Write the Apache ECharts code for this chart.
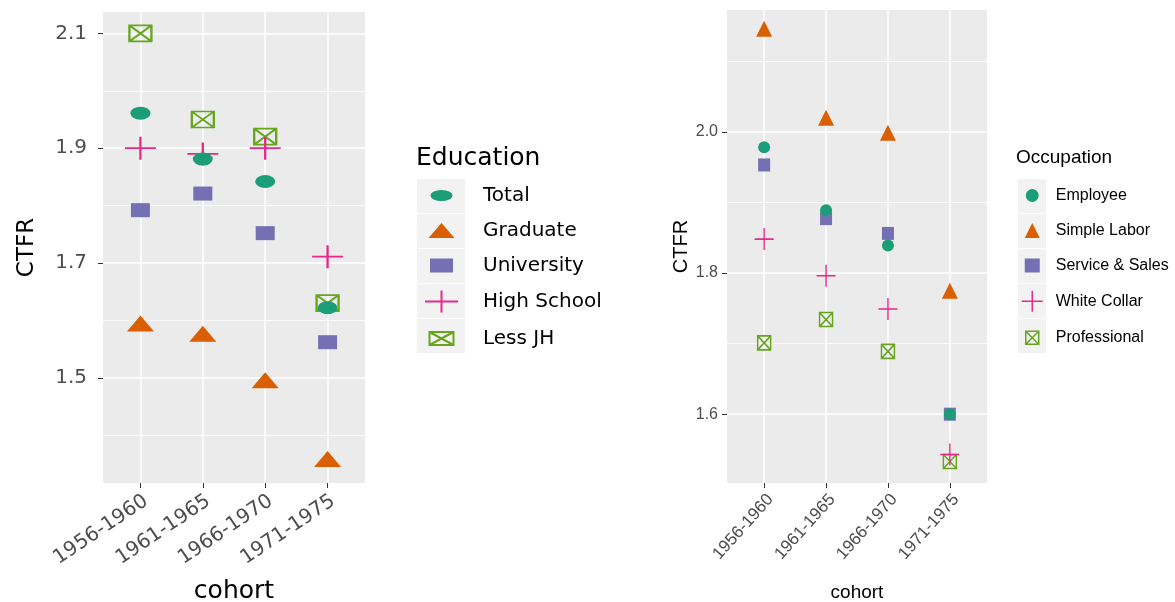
<!DOCTYPE html>
<html>
<head>
<meta charset="utf-8">
<script src="https://cdn.jsdelivr.net/npm/echarts@6/dist/echarts.min.js"></script>
<style>
  html, body { margin: 0; padding: 0; background: #ffffff; }
  #chart { width: 1175px; height: 602px; }
</style>
</head>
<body>
<div id="chart"></div>
<script>
// Completed total fertility rate (CTFR) by birth cohort
const cohorts = ['1956-1960', '1961-1965', '1966-1970', '1971-1975'];

const eduNames = ['Total', 'Graduate', 'University', 'High School', 'Less JH'];
const eduTotal      = [1.961, 1.881, 1.842, 1.622];
const eduGraduate   = [1.590, 1.572, 1.491, 1.354];
const eduUniversity = [1.792, 1.821, 1.752, 1.562];
const eduHighSchool = [1.900, 1.890, 1.900, 1.711];
const eduLessJH     = [2.100, 1.950, 1.920, 1.630];

const occNames = ['Employee', 'Simple Labor', 'Service & Sales', 'White Collar', 'Professional'];
const occEmployee     = [1.978, 1.889, 1.839, 1.600];
const occSimpleLabor  = [2.142, 2.016, 1.995, 1.771];
const occServiceSales = [1.953, 1.877, 1.856, 1.600];
const occWhiteCollar  = [1.848, 1.796, 1.749, 1.543];
const occProfessional = [1.701, 1.734, 1.689, 1.533];

const eduTicks = [1.5, 1.7, 1.9, 2.1];
const eduMinorTicks = [1.4, 1.6, 1.8, 2.0];
const occTicks = [1.6, 1.8, 2.0];
const occMinorTicks = [1.7, 1.9, 2.1];

// Dark2 palette
const COLORS = ['#1B9E77', '#D95F02', '#7570B3', '#E7298A', '#66A61E'];
const SHAPES = ['circle', 'triangle', 'rect', 'plus', 'boxx'];

const eduValues = [eduTotal, eduGraduate, eduUniversity, eduHighSchool, eduLessJH];
const occValues = [occEmployee, occSimpleLabor, occServiceSales, occWhiteCollar, occProfessional];

// continuous range padded by 5% on each side
function paddedRange(arrays) {
  const all = [].concat(...arrays);
  const lo = Math.min(...all), hi = Math.max(...all);
  const pad = (hi - lo) * 0.05;
  return [lo - pad, hi + pad];
}
const eduRange = paddedRange(eduValues);
const occRange = paddedRange(occValues);

const PATH_PLUS = 'path://M0,5L10,5M5,0L5,10';
const PATH_BOXX = 'path://M0,0L10,0L10,10L0,10ZM0,0L10,10M10,0L0,10';

// marker appearance per panel
const panelStyle = {
  edu: {
    size: { circle: [20, 13], triangle: [27, 16], rect: [19, 14], plus: [31, 23], boxx: [22, 16] },
    legendSize: { circle: [22, 11], triangle: [26, 15], rect: [23, 14], plus: [33, 22], boxx: [24, 13] },
    stroke: 2
  },
  occ: {
    size: { circle: [12, 12], triangle: [16, 16], rect: [12, 13], plus: [19, 22], boxx: [13, 14] },
    legendSize: { circle: [13, 13], triangle: [15, 15], rect: [15, 14], plus: [21, 21], boxx: [13, 13] },
    stroke: 1.5
  }
};

function symbolFor(shape) {
  if (shape === 'plus') return PATH_PLUS;
  if (shape === 'boxx') return PATH_BOXX;
  return shape;
}
function isOutline(shape) { return shape === 'plus' || shape === 'boxx'; }

function itemStyleFor(shape, color, stroke) {
  return isOutline(shape)
    ? { color: 'rgba(0,0,0,0)', borderColor: color, borderWidth: stroke, opacity: 1 }
    : { color: color, borderWidth: 0, opacity: 1 };
}

// legend glyph inside a key box (bw x bh), drawn centred
function keyIcon(shape, w, h, bw, bh) {
  const x0 = (bw - w) / 2, y0 = (bh - h) / 2, x1 = x0 + w, y1 = y0 + h;
  const cx = bw / 2, cy = bh / 2;
  const frame = 'M0,0M' + bw + ',' + bh;
  let d;
  if (shape === 'circle') {
    d = 'M' + x0 + ',' + cy + 'A' + (w / 2) + ',' + (h / 2) + ' 0 1 1 ' + x1 + ',' + cy +
        'A' + (w / 2) + ',' + (h / 2) + ' 0 1 1 ' + x0 + ',' + cy + 'Z';
  } else if (shape === 'triangle') {
    d = 'M' + cx + ',' + y0 + 'L' + x1 + ',' + y1 + 'L' + x0 + ',' + y1 + 'Z';
  } else if (shape === 'rect') {
    d = 'M' + x0 + ',' + y0 + 'L' + x1 + ',' + y0 + 'L' + x1 + ',' + y1 + 'L' + x0 + ',' + y1 + 'Z';
  } else if (shape === 'plus') {
    d = 'M' + x0 + ',' + cy + 'L' + x1 + ',' + cy + 'M' + cx + ',' + y0 + 'L' + cx + ',' + y1;
  } else {
    d = 'M' + x0 + ',' + y0 + 'L' + x1 + ',' + y0 + 'L' + x1 + ',' + y1 + 'L' + x0 + ',' + y1 + 'Z' +
        'M' + x0 + ',' + y0 + 'L' + x1 + ',' + y1 + 'M' + x1 + ',' + y0 + 'L' + x0 + ',' + y1;
  }
  return 'path://' + frame + d;
}

// groups are drawn last-to-first, so the first group ends up on top
function buildSeries(names, values, panel, axisIndex) {
  const st = panelStyle[panel];
  return names.map((name, k) => {
    const shape = SHAPES[k];
    const size = st.size[shape];
    return {
      name: name,
      type: 'scatter',
      xAxisIndex: axisIndex,
      yAxisIndex: axisIndex * 2,
      symbol: symbolFor(shape),
      symbolSize: size,
      symbolOffset: shape === 'triangle' ? [0, -size[1] / 6] : [0, 0],
      itemStyle: itemStyleFor(shape, COLORS[k], st.stroke),
      emphasis: { disabled: true },
      silent: true,
      data: values[k].map((v, i) => [i, v])
    };
  }).reverse();
}

function buildLegendData(names, panel, bw, bh) {
  const st = panelStyle[panel];
  return names.map((name, k) => {
    const shape = SHAPES[k];
    const ls = st.legendSize[shape];
    return {
      name: name,
      icon: keyIcon(shape, ls[0], ls[1], bw, bh),
      itemStyle: itemStyleFor(shape, COLORS[k], st.stroke)
    };
  });
}

const LEFT_FONT = 'DejaVu Sans';
const RIGHT_FONT = 'Liberation Sans';
const TICK_COLOR = '#4D4D4D';
const GRID_BG = '#EBEBEB';

const grids = [
  { left: 103, top: 12, width: 262, height: 471 },
  { left: 727, top: 10, width: 260, height: 473 }
];

function xAxisFor(gridIndex, font, fontSize, rotate, margin, nameSize, nameGap) {
  return {
    type: 'value',
    gridIndex: gridIndex,
    position: 'bottom',
    min: -0.6,
    max: cohorts.length - 1 + 0.6,
    axisLine: { show: false, onZero: false },
    axisTick: { show: true, length: 5, lineStyle: { color: '#333333', width: 1 },
                customValues: cohorts.map((c, i) => i) },
    axisLabel: { show: true, customValues: cohorts.map((c, i) => i), rotate: rotate, margin: margin,
                 align: 'right', verticalAlign: 'top',
                 color: TICK_COLOR, fontFamily: font, fontSize: fontSize,
                 formatter: v => cohorts[Math.round(v)] },
    splitLine: { show: true, lineStyle: { color: '#FFFFFF', width: 1.5 } },
    name: 'cohort',
    nameLocation: 'middle',
    nameGap: nameGap,
    nameTextStyle: { color: '#000000', fontFamily: font, fontSize: nameSize }
  };
}

function yAxesFor(gridIndex, range, ticks, minorTicks, font, fontSize, margin, nameSize, nameGap) {
  return [
    {
      type: 'value',
      gridIndex: gridIndex,
      position: 'left',
      min: range[0],
      max: range[1],
      axisLine: { show: false, onZero: false },
      axisTick: { show: true, length: 5, lineStyle: { color: '#333333', width: 1 }, customValues: ticks },
      axisLabel: { show: true, customValues: ticks, margin: margin, color: TICK_COLOR,
                   fontFamily: font, fontSize: fontSize, formatter: v => v.toFixed(1) },
      splitLine: { show: true, lineStyle: { color: '#FFFFFF', width: 1.5 } },
      name: 'CTFR',
      nameLocation: 'middle',
      nameRotate: 90,
      nameGap: nameGap,
      nameTextStyle: { color: '#000000', fontFamily: font, fontSize: nameSize }
    },
    {
      type: 'value',
      gridIndex: gridIndex,
      position: 'left',
      min: range[0],
      max: range[1],
      axisLine: { show: false, onZero: false },
      axisTick: { show: false, customValues: minorTicks },
      axisLabel: { show: false },
      splitLine: { show: true, lineStyle: { color: '#FFFFFF', width: 0.8 } }
    }
  ];
}

// legend key geometry
const KEY_H = 35;
const eduKey = { left: 416, top: 178, width: 49 };
const occKey = { left: 1017, top: 178, width: 29 };

function keyBoxes(key, count) {
  const out = [];
  for (let i = 0; i < count; i++) {
    out.push({
      type: 'rect',
      left: key.left, top: key.top + i * KEY_H,
      shape: { width: key.width, height: KEY_H },
      style: { fill: '#F2F2F2', stroke: '#FFFFFF', lineWidth: 1 },
      silent: true, z: 0
    });
  }
  return out;
}

const option = {
  animation: false,
  backgroundColor: '#FFFFFF',
  title: [
    { text: 'Education', left: 416, top: 146, padding: 0,
      textStyle: { fontFamily: LEFT_FONT, fontSize: 25, fontWeight: 'normal', color: '#000000' } },
    { text: 'Occupation', left: 1016, top: 148, padding: 0,
      textStyle: { fontFamily: RIGHT_FONT, fontSize: 19, fontWeight: 'normal', color: '#000000' } }
  ],
  grid: grids.map(g => Object.assign({
    show: true, backgroundColor: GRID_BG, borderWidth: 0,
    containLabel: false, outerBoundsMode: 'none'
  }, g)),
  xAxis: [
    xAxisFor(0, LEFT_FONT, 20, 34, 8, 25, 96),
    xAxisFor(1, RIGHT_FONT, 17, 48, 8, 19, 100)
  ],
  yAxis: [].concat(
    yAxesFor(0, eduRange, eduTicks, eduMinorTicks, LEFT_FONT, 20, 16, 23, 64),
    yAxesFor(1, occRange, occTicks, occMinorTicks, RIGHT_FONT, 16, 9, 20, 34)
  ),
  legend: [
    {
      orient: 'vertical', left: eduKey.left, top: eduKey.top, padding: 0,
      itemGap: 0, itemWidth: eduKey.width, itemHeight: KEY_H, selectedMode: false,
      data: buildLegendData(eduNames, 'edu', eduKey.width, KEY_H),
      textStyle: { fontFamily: LEFT_FONT, fontSize: 20, color: '#000000', padding: [0, 0, 0, 12] }
    },
    {
      orient: 'vertical', left: occKey.left, top: occKey.top, padding: 0,
      itemGap: 0, itemWidth: occKey.width, itemHeight: KEY_H, selectedMode: false,
      data: buildLegendData(occNames, 'occ', occKey.width, KEY_H),
      textStyle: { fontFamily: RIGHT_FONT, fontSize: 16, color: '#000000', padding: [0, 0, 0, 4] }
    }
  ],
  graphic: keyBoxes(eduKey, eduNames.length).concat(keyBoxes(occKey, occNames.length)),
  series: [].concat(
    buildSeries(eduNames, eduValues, 'edu', 0),
    buildSeries(occNames, occValues, 'occ', 1)
  )
};

const chart = echarts.init(document.getElementById('chart'), null, { renderer: 'canvas' });
chart.setOption(option);
</script>
</body>
</html>
